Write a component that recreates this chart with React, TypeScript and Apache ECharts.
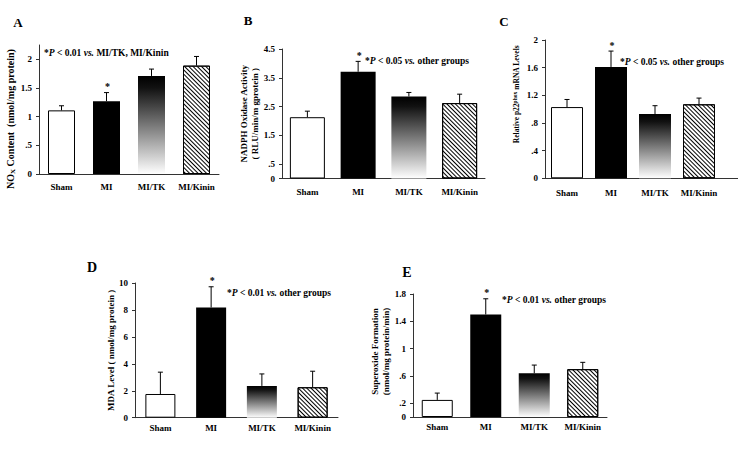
import React, { useEffect, useRef } from "react";
import * as echarts from "echarts";

const categories = ["Sham", "MI", "MI/TK", "MI/Kinin"];

const noxMean = [1.11, 1.27, 1.71, 1.89];
const noxErrTop = [1.19, 1.42, 1.83, 2.05];
const noxTicks = [0, 0.5, 1, 1.5, 2];

const nadphMean = [2.13, 3.71, 2.85, 2.62];
const nadphErrTop = [2.34, 4.07, 2.99, 2.93];
const nadphTicks = [0, 0.5, 1.5, 2.5, 3.5, 4.5];

const p22Mean = [1.03, 1.61, 0.93, 1.07];
const p22ErrTop = [1.14, 1.84, 1.05, 1.16];
const p22Ticks = [0, 0.4, 0.8, 1.2, 1.6, 2];

const mdaMean = [1.76, 8.18, 2.36, 2.26];
const mdaErrTop = [3.38, 9.72, 3.25, 3.45];
const mdaTicks = [0, 2, 4, 6, 8, 10];

const supMean = [0.25, 1.5, 0.64, 0.7];
const supErrTop = [0.35, 1.73, 0.76, 0.8];
const supTicks = [0.2, 0.6, 1, 1.4, 1.8];

const starred = [false, true, false, false];

const FONT = "'Liberation Serif', 'Times New Roman', serif";

function fmtTick(v: number): string {
  if (v === 0) return "0";
  if (v > 0 && v < 1) return String(v).replace(/^0/, "");
  return String(v);
}

const gradientFill = new echarts.graphic.LinearGradient(0, 0, 0, 1, [
  { offset: 0, color: "#000000" },
  { offset: 0.12, color: "#111111" },
  { offset: 1, color: "#ffffff" },
]);

function barItems(values: number[]) {
  return values.map((v, i) => {
    if (i === 0) return { value: v, itemStyle: { color: "#ffffff", borderColor: "#000", borderWidth: 1 } };
    if (i === 1) return { value: v, itemStyle: { color: "#000000" } };
    if (i === 2) return { value: v, itemStyle: { color: gradientFill } };
    return {
      value: v,
      itemStyle: {
        color: "#ffffff",
        borderColor: "#000",
        borderWidth: 1,
        decal: {
          symbol: "rect",
          symbolSize: 1,
          symbolKeepAspect: false,
          color: "#000000",
          backgroundColor: "#ffffff",
          dashArrayX: [1, 0],
          dashArrayY: [1, 1.6],
          rotation: Math.PI / 4,
        },
      },
    };
  });
}

function errRender(params: any, api: any) {
  const idx = api.value(0);
  const top = api.value(1);
  const err = api.value(2);
  const p1 = api.coord([idx, top]);
  const p2 = api.coord([idx, err]);
  const children: any[] = [
    { type: "line", shape: { x1: p1[0], y1: p1[1], x2: p2[0], y2: p2[1] }, style: { stroke: "#000", lineWidth: 1 } },
    { type: "line", shape: { x1: p2[0] - 2.5, y1: p2[1], x2: p2[0] + 2.5, y2: p2[1] }, style: { stroke: "#000", lineWidth: 1 } },
  ];
  if (starred[idx]) {
    children.push({
      type: "text",
      style: { text: "*", x: p2[0] + 1, y: p2[1] - 1, align: "center", verticalAlign: "bottom", font: `bold 10px ${FONT}`, fill: "#000" },
    });
  }
  return { type: "group", children };
}

export default function App() {
  const ref = useRef<HTMLDivElement>(null);
  useEffect(() => {
    document.body.style.margin = "0";
    if (!ref.current) return;
    const chart = echarts.init(ref.current, null, { renderer: "svg" });

    const panels = [
      { grid: { left: 39, top: 45, width: 180, height: 129 }, max: 2.25, ticks: noxTicks, mean: noxMean, err: noxErrTop, barWidth: 27, labelMargin: 8, name: "{a|NO}{sub|X}{a| Content  (nmol/mg protein)}", nameGap: 21, nameFont: 10, namePad: [0, 19, 0, 0] },
      { grid: { left: 282, top: 49, width: 203, height: 129.5 }, max: 4.5, ticks: nadphTicks, mean: nadphMean, err: nadphErrTop, barWidth: 35, labelMargin: 9, name: "{a|NADPH Oxidase Activity}\n{a|( RLU/min/m gprotein )}", nameGap: 20, nameFont: 9, namePad: [0, 0, 0, 0] },
      { grid: { left: 545, top: 40, width: 176, height: 138.3 }, max: 2, ticks: p22Ticks, mean: p22Mean, err: p22ErrTop, barWidth: 32, labelMargin: 10, name: "{a|Relative p22}{sup|phox}{a| mRNA Levels}", nameGap: 24, nameFont: 7.5, namePad: [0, 0, 0, 30] },
      { grid: { left: 135, top: 283, width: 203, height: 134.7 }, max: 10, ticks: mdaTicks, mean: mdaMean, err: mdaErrTop, barWidth: 30, labelMargin: 6, name: "{a|MDA Level ( nmol/mg protein )}", nameGap: 18, nameFont: 9, namePad: [0, 0, 0, 0] },
      { grid: { left: 413, top: 294, width: 194, height: 123 }, max: 1.8, ticks: [0, ...supTicks], mean: supMean, err: supErrTop, barWidth: 31, labelMargin: 5, name: "{a|Superoxide Formation}\n{a|(nmol/mg protein/min)}", nameGap: 21, nameFont: 9, namePad: [0, 0, 0, 8] },
    ];

    const grids: any[] = [];
    const xAxes: any[] = [];
    const yAxes: any[] = [];
    const series: any[] = [];

    panels.forEach((p, k) => {
      grids.push({ ...p.grid, containLabel: false });
      xAxes.push({
        type: "category",
        gridIndex: k,
        data: categories,
        axisLine: { lineStyle: { color: "#333", width: 1 } },
        axisTick: { show: false },
        axisLabel: { margin: p.labelMargin, fontFamily: FONT, fontWeight: "bold", fontSize: 9, color: "#000", interval: 0 },
      });
      yAxes.push({
        type: "value",
        gridIndex: k,
        min: 0,
        max: p.max,
        splitLine: { show: false },
        axisLine: { show: true, lineStyle: { color: "#333", width: 1 } },
        axisTick: { show: true, length: 3, customValues: p.ticks, lineStyle: { color: "#333" } },
        axisLabel: { customValues: p.ticks, formatter: (v: number) => fmtTick(v), margin: 7, fontFamily: FONT, fontWeight: "bold", fontSize: 9, color: "#000" },
        name: p.name,
        nameLocation: "middle",
        nameRotate: 90,
        nameGap: p.nameGap,
        nameTextStyle: {
          padding: p.namePad,
          rich: {
            a: { fontFamily: FONT, fontWeight: "bold", fontSize: p.nameFont, color: "#000", lineHeight: p.nameFont + 2 },
            sub: { fontFamily: FONT, fontWeight: "bold", fontSize: 7, color: "#000", lineHeight: 7, verticalAlign: "bottom" },
            sup: { fontFamily: FONT, fontWeight: "bold", fontSize: 5.5, color: "#000", lineHeight: 5.5, verticalAlign: "top" },
          },
        },
      });
      series.push({
        type: "bar",
        xAxisIndex: k,
        yAxisIndex: k,
        barWidth: p.barWidth,
        data: barItems(p.mean),
      });
      series.push({
        type: "custom",
        xAxisIndex: k,
        yAxisIndex: k,
        renderItem: errRender,
        data: p.mean.map((m, i) => [i, m, p.err[i]]),
        z: 3,
      });
    });

    const annoRich = {
      i: { fontFamily: FONT, fontWeight: "bold", fontStyle: "italic", fontSize: 9.5, fill: "#000" },
      n: { fontFamily: FONT, fontWeight: "bold", fontSize: 9.5, fill: "#000" },
    };
    const anno = (x: number, y: number, rest: string) => ({
      type: "text",
      x,
      y,
      style: { text: `{n|*}{i|P}{n| < 0.01 }{i|vs.}{n| ${rest}}`, rich: annoRich, verticalAlign: "middle" },
    });
    const anno05 = (x: number, y: number, rest: string) => ({
      type: "text",
      x,
      y,
      style: { text: `{n|*}{i|P}{n| < 0.05 }{i|vs.}{n| ${rest}}`, rich: annoRich, verticalAlign: "middle" },
    });
    const letter = (x: number, y: number, t: string, size: number) => ({
      type: "text",
      x,
      y,
      style: { text: t, font: `bold ${size}px ${FONT}`, fill: "#000", align: "center", verticalAlign: "middle" },
    });

    chart.setOption({
      animation: false,
      backgroundColor: "#ffffff",
      grid: grids,
      xAxis: xAxes,
      yAxis: yAxes,
      series,
      graphic: [
        letter(18, 22, "A", 13),
        letter(248, 20, "B", 13),
        letter(504, 21, "C", 13),
        letter(92, 267, "D", 14),
        letter(407, 272, "E", 14),
        anno(44, 53, "MI/TK, MI/Kinin"),
        anno05(365, 61, "other groups"),
        anno05(620, 62, "other groups"),
        anno(227, 293, "other groups"),
        anno(502, 300, "other groups"),
        { type: "line", shape: { x1: 721, y1: 178.5, x2: 738, y2: 178.5 }, style: { stroke: "#333", lineWidth: 1 } },
      ],
    });
    return () => chart.dispose();
  }, []);
  return <div ref={ref} style={{ width: 740, height: 449 }} />;
}
